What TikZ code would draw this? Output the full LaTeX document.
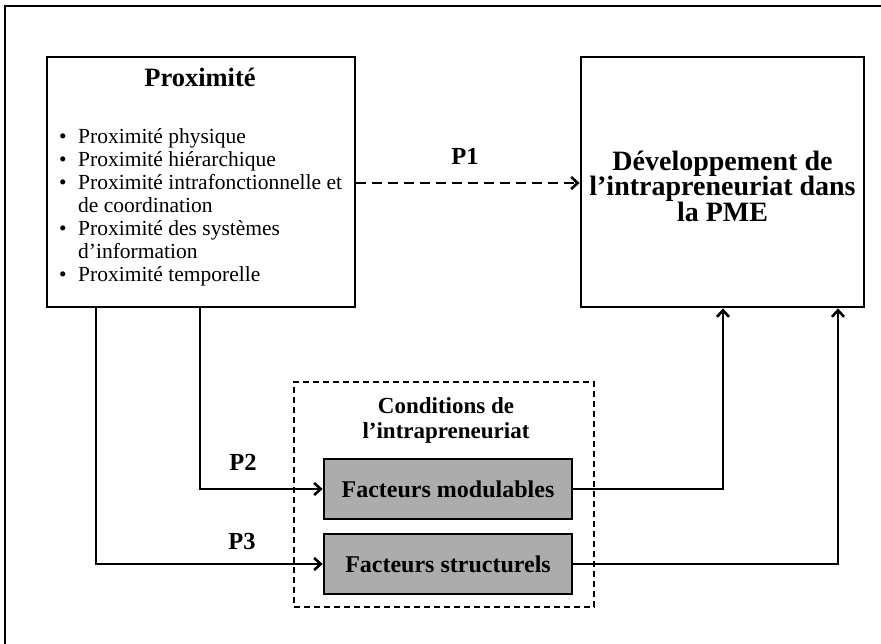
\documentclass[tikz,border=0pt]{standalone}
\usepackage{fontspec}
\setmainfont{Liberation Serif}
\usetikzlibrary{arrows.meta}
\begin{document}
\begin{tikzpicture}[x=1pt,y=-1pt,
  box/.style={draw=black, line width=2.8pt, minimum width=#1, inner sep=0pt},
  graybox/.style={draw=black, line width=2.8pt, fill=gray!65, inner sep=0pt, minimum width=248pt, minimum height=60pt, font=\bfseries\fontsize{24}{26}\selectfont},
  conn/.style={line width=2.8pt, -{Straight Barb[length=6.5pt,width=12pt,line width=2.6pt]}},
  plabel/.style={anchor=base, font=\bfseries\fontsize{24.5}{26}\selectfont, inner sep=0pt},
  itemtxt/.style={anchor=base west, font=\fontsize{21.5}{23}\selectfont, inner sep=0pt}]
\useasboundingbox (0,0) rectangle (881,644);
% outer frame
\coordinate (fa) at (5,644);
\coordinate (fb) at (5,6);
\coordinate (fc) at (881,6);
\draw[line width=2.4pt] (fa) -- (fb) -- (fc);
% main boxes
\node[box=308pt, minimum height=250pt] (prox) at (201,182) {};
\node[box=283pt, minimum height=250pt] (dev) at (722.5,182) {};
\node[draw=black, line width=2.4pt, dash pattern=on 6pt off 4pt, minimum width=300pt, minimum height=225pt, inner sep=0pt] (cond) at (444,494.5) {};
\node[graybox] (fmod) at (448,489) {Facteurs modulables};
\node[graybox] (fstr) at (448,564) {Facteurs structurels};
% texts
\node[anchor=base, font=\bfseries\fontsize{26.5}{28}\selectfont, inner sep=0pt] (ptitle) at (200,87) {Proximité};
\node[itemtxt] (b1) at (59,144) {\makebox[19pt][l]{•}Proximité physique};
\node[itemtxt] (b2) at (59,167) {\makebox[19pt][l]{•}Proximité hiérarchique};
\node[itemtxt] (b3) at (59,190) {\makebox[19pt][l]{•}Proximité intrafonctionnelle et};
\node[itemtxt] (b3b) at (78,213) {de coordination};
\node[itemtxt] (b4) at (59,236) {\makebox[19pt][l]{•}Proximité des systèmes};
\node[itemtxt] (b4b) at (78,259) {d’information};
\node[itemtxt] (b5) at (59,282) {\makebox[19pt][l]{•}Proximité temporelle};
\node[align=center, font=\bfseries\fontsize{28}{25.5}\selectfont, inner sep=0pt] (devtxt) at (722.5,186) {Développement de\\l’intrapreneuriat dans\\la PME};
\node[align=center, font=\bfseries\fontsize{23}{25}\selectfont, inner sep=0pt] (condtxt) at (446,420) {Conditions de\\l’intrapreneuriat};
\node[plabel] (p1) at (465,165) {P1};
\node[plabel] (p2) at (243,470) {P2};
\node[plabel] (p3) at (242,549) {P3};
% connectors
\draw[conn, dash pattern=on 10pt off 6pt] (prox.east |- 0,183) -- (dev.west |- 0,183);
\draw[conn] (prox.south -| 200,0) |- (fmod.west);
\draw[conn] (prox.south -| 96,0) |- (fstr.west);
\draw[conn] (fmod.east) -| (dev.south -| 723,0);
\draw[conn] (fstr.east) -| (dev.south -| 838,0);
\end{tikzpicture}
\end{document}
